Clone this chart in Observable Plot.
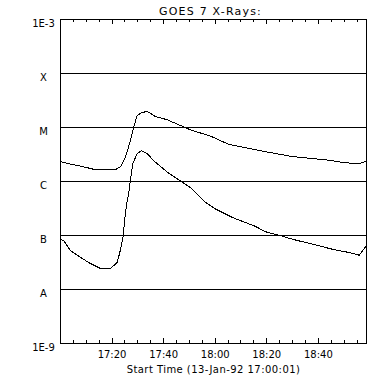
<!DOCTYPE html>
<html>
<head>
<meta charset="utf-8">
<script src="https://cdn.jsdelivr.net/npm/d3@7"></script>
<script src="https://cdn.jsdelivr.net/npm/@observablehq/plot@0.6"></script>
<style>
  html, body { margin: 0; padding: 0; background: white; }
</style>
</head>
<body>
<div id="chart"></div>
<script>
// Start of the record: 13-Jan-92 17:00:01 UT
const titleText = "GOES 7 X-Rays:";
const xLabelText = "Start Time (13-Jan-92 17:00:01)";
const startUTC = Date.UTC(1992, 0, 13, 17, 0, 1);
const endMinutes = 118.65;

// Upper curve (1-8 Å channel): minutes after start, flux W/m^2
const upperMinutes = [0.1, 3.2, 8.4, 13.6, 21.3, 23.3, 25.2, 27.1, 28.4, 29.7, 31.7, 33.6, 34.9, 36.8, 41.4, 51.0, 57.6, 65.4, 77.0, 89.9, 102.8, 110.6, 115.8, 118.6];
const upperFlux = [2.32e-6, 2.13e-6, 1.90e-6, 1.65e-6, 1.65e-6, 1.90e-6, 2.82e-6, 5.74e-6, 1.01e-5, 1.67e-5, 1.90e-5, 1.98e-5, 1.82e-5, 1.60e-5, 1.39e-5, 8.79e-6, 7.11e-6, 4.84e-6, 3.75e-6, 2.90e-6, 2.52e-6, 2.22e-6, 2.13e-6, 2.38e-6];

// Lower curve (0.5-4 Å channel)
const lowerMinutes = [0.1, 1.3, 3.9, 7.8, 11.6, 15.5, 19.4, 22.0, 23.3, 24.3, 25.2, 25.9, 26.5, 27.1, 28.0, 29.7, 31.4, 33.6, 36.8, 41.4, 51.0, 56.3, 60.2, 66.7, 75.1, 79.6, 84.8, 89.9, 97.7, 105.4, 111.9, 115.8, 118.6];
const lowerFlux = [8.53e-8, 7.98e-8, 5.21e-8, 3.92e-8, 3.03e-8, 2.45e-8, 2.45e-8, 3.16e-8, 5.57e-8, 9.86e-8, 2.67e-7, 4.45e-7, 6.25e-7, 1.04e-6, 2.13e-6, 3.26e-6, 3.75e-6, 3.26e-6, 2.28e-6, 1.49e-6, 7.33e-7, 4.08e-7, 3.07e-7, 2.15e-7, 1.51e-7, 1.17e-7, 1.01e-7, 8.53e-8, 6.90e-8, 5.57e-8, 4.84e-8, 4.32e-8, 6.44e-8];

// Axes
const majorTickLabels = ["17:20", "17:40", "18:00", "18:20", "18:40"];
const minorTickLabels = ["17:05", "17:10", "17:15", "17:25", "17:30", "17:35", "17:45", "17:50", "17:55",
  "18:05", "18:10", "18:15", "18:25", "18:30", "18:35", "18:45", "18:50", "18:55"];
const yTickValues = [1e-3, 1e-4, 1e-5, 1e-6, 1e-7, 1e-8, 1e-9];
const yTickLabels = ["1E-3", "X", "M", "C", "B", "A", "1E-9"];
const gridValues = [1e-4, 1e-5, 1e-6, 1e-7, 1e-8];

const atMinutes = m => new Date(startUTC + m * 60000);
const atClock = s => { const [h, m] = s.split(":").map(Number); return new Date(Date.UTC(1992, 0, 13, h, m, 0)); };

const upper = upperMinutes.map((m, i) => ({t: atMinutes(m), v: upperFlux[i]}));
const lower = lowerMinutes.map((m, i) => ({t: atMinutes(m), v: lowerFlux[i]}));

const W = 384, H = 384, mT = 19, mB = 41, mL = 60, mR = 18;
const frameH = H - mT - mB;

const crisp = {stroke: "black", strokeWidth: 1, shapeRendering: "crispEdges"};

const chart = Plot.plot({
  width: W,
  height: H,
  marginTop: mT,
  marginBottom: mB,
  marginLeft: mL,
  marginRight: mR,
  x: {type: "utc", domain: [atMinutes(0), atMinutes(endMinutes)], axis: null},
  y: {type: "log", domain: [1e-9, 1e-3], axis: null},
  style: {fontFamily: "DejaVu Sans", fontSize: "10px", background: "white", color: "black"},
  marks: [
    Plot.ruleY(gridValues, {y: d => d, ...crisp}),
    Plot.tickX(minorTickLabels, {x: atClock, insetTop: frameH - 3, ...crisp}),
    Plot.tickX(minorTickLabels, {x: atClock, insetBottom: frameH - 3, ...crisp}),
    Plot.tickX(majorTickLabels, {x: atClock, insetTop: frameH - 5, ...crisp}),
    Plot.tickX(majorTickLabels, {x: atClock, insetBottom: frameH - 5, ...crisp}),
    Plot.line(upper, {x: "t", y: "v", ...crisp}),
    Plot.line(lower, {x: "t", y: "v", ...crisp}),
    Plot.frame(crisp),
    Plot.text(majorTickLabels, {x: atClock, text: d => d, frameAnchor: "bottom", dy: 11, lineAnchor: "middle", fill: "black"}),
    Plot.text(yTickValues, {y: d => d, text: (d, i) => yTickLabels[i], frameAnchor: "left", dx: -17, lineAnchor: "top", textAnchor: "middle", fill: "black"}),
    Plot.text([xLabelText], {text: d => d, frameAnchor: "bottom", dy: 26, lineAnchor: "middle", fill: "black", className: "xlab"}),
    Plot.text([titleText], {text: d => d, frameAnchor: "top", dy: -8.5, dx: -3, lineAnchor: "middle", fontSize: 11, fill: "black", className: "ttl"})
  ]
});

d3.select(chart).selectAll(".xlab text").attr("letter-spacing", "0.45");
d3.select(chart).selectAll(".ttl text").attr("letter-spacing", "1.2");
document.getElementById("chart").appendChild(chart);
</script>
</body>
</html>
